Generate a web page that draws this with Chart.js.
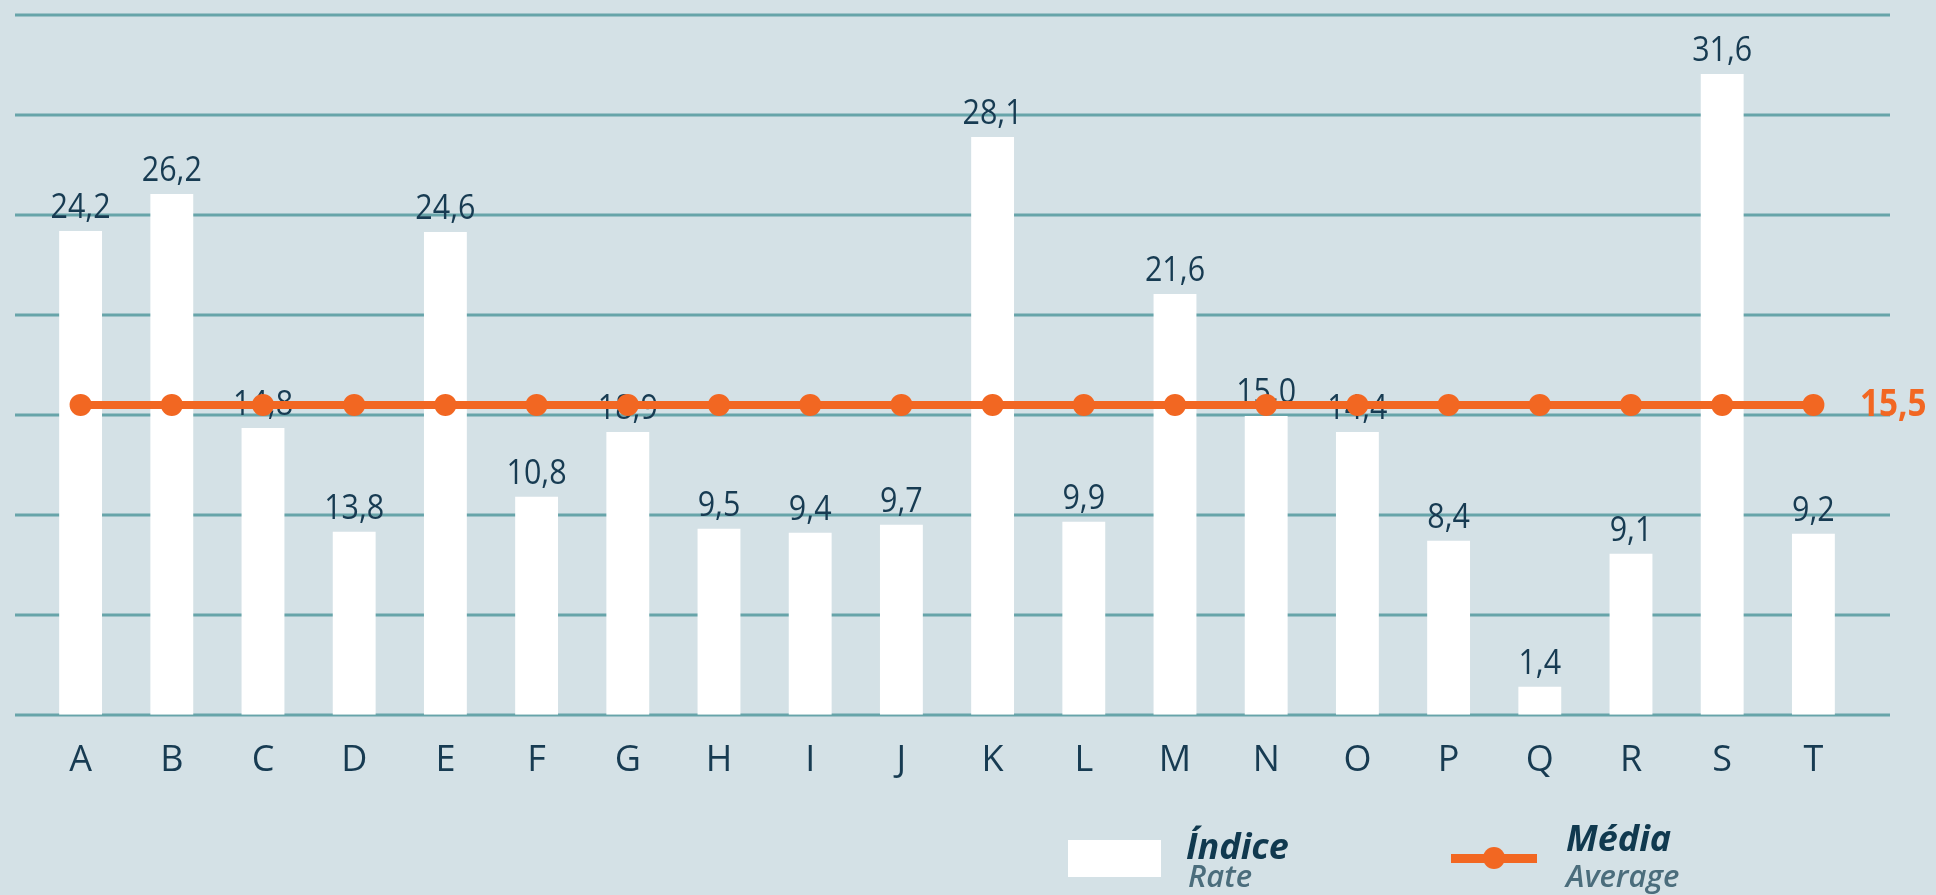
<!DOCTYPE html>
<html>
<head>
<meta charset="utf-8">
<script src="https://cdn.jsdelivr.net/npm/chart.js@4"></script>
<style>
    html, body { margin: 0; padding: 0; background: #d4e1e6; }
    .wrap { position: relative; width: 1936px; height: 895px; }
    canvas { display: block; }
    .legend-box { position: absolute; left: 1068px; top: 840px; width: 93px; height: 37px; background: #ffffff; }
    .legend-line { position: absolute; left: 1451px; top: 854px; width: 86px; height: 9px; background: #f26722; }
    .legend-dot { position: absolute; left: 1483px; top: 847px; width: 22px; height: 22px; border-radius: 50%; background: #f26722; }
    .legend-main, .legend-sub { position: absolute; font-family: "Open Sans", sans-serif; font-style: italic; line-height: 1; white-space: nowrap; }
    .legend-main { font-weight: 700; font-size: 36px; color: #10394f; }
    .legend-sub { font-weight: 600; font-size: 31px; color: #4b6d7c; }
</style>
</head>
<body>
<div class="wrap">
    <canvas id="chart" width="1936" height="895"></canvas>
    <div class="legend-box"></div>
    <div class="legend-main" style="left:1186px; top:828px;">Índice</div>
    <div class="legend-sub" style="left:1188px; top:860px;">Rate</div>
    <div class="legend-line"></div>
    <div class="legend-dot"></div>
    <div class="legend-main" style="left:1566px; top:820px;">Média</div>
    <div class="legend-sub" style="left:1566px; top:860px;">Average</div>
</div>
<script>
// categories on the x axis
const categories = ['A', 'B', 'C', 'D', 'E', 'F', 'G', 'H', 'I', 'J', 'K', 'L', 'M', 'N', 'O', 'P', 'Q', 'R', 'S', 'T'];
// bar heights as drawn in the picture
const barValues = [24.2, 26.05, 14.35, 9.15, 24.15, 10.9, 14.15, 9.3, 9.1, 9.5, 28.9, 9.65, 21.05, 14.95, 14.15, 8.7, 1.4, 8.05, 32.05, 9.05];
// values printed above the bars
const labelValues = [24.2, 26.2, 14.8, 13.8, 24.6, 10.8, 18.9, 9.5, 9.4, 9.7, 28.1, 9.9, 21.6, 15.0, 14.4, 8.4, 1.4, 9.1, 31.6, 9.2];
// average line
const averageValue = 15.5;
const averageLine = categories.map(() => averageValue);
// y grid ticks
const yTicks = [0, 5, 10, 15, 20, 25, 30, 35];

const fmt = v => v.toFixed(1).replace('.', ',');

// draw text a bit narrower, closer to the original condensed face
function narrowText(ctx, text, x, y, sx) {
    ctx.save();
    ctx.translate(x, y);
    ctx.scale(sx, 1);
    ctx.fillText(text, 0, 0);
    ctx.restore();
}

const gridPlugin = {
    id: 'wideGrid',
    beforeDatasetsDraw(chart) {
        const { ctx, chartArea, scales } = chart;
        ctx.save();
        ctx.strokeStyle = '#67a4a9';
        ctx.lineWidth = 3;
        yTicks.forEach(t => {
            const y = Math.round(scales.y.getPixelForValue(t));
            ctx.beginPath();
            ctx.moveTo(chartArea.left - 20, y);
            ctx.lineTo(chartArea.right + 31, y);
            ctx.stroke();
        });
        ctx.restore();
    },
    afterDatasetDraw(chart, args) {
        const { ctx } = chart;
        if (args.index === 0) {
            // value labels above bars (drawn before the line so the line sits on top)
            ctx.save();
            ctx.font = '35px "Open Sans"';
            ctx.fillStyle = '#173b52';
            ctx.textAlign = 'center';
            ctx.textBaseline = 'alphabetic';
            args.meta.data.forEach((bar, i) => {
                narrowText(ctx, fmt(labelValues[i]), bar.x, bar.y - 13, 0.87);
            });
            ctx.restore();
        }
    },
    afterDatasetsDraw(chart) {
        const { ctx, chartArea } = chart;
        const meta = chart.getDatasetMeta(1);
        const last = meta.data[meta.data.length - 1];
        ctx.save();
        ctx.font = 'bold 37px "Open Sans"';
        ctx.fillStyle = '#f26722';
        ctx.textAlign = 'left';
        ctx.textBaseline = 'middle';
        narrowText(ctx, fmt(averageValue), chartArea.right + 1, last.y + 1, 0.9);
        ctx.restore();
    }
};

const ctx = document.getElementById('chart').getContext('2d');
new Chart(ctx, {
    type: 'bar',
    data: {
        labels: categories,
        datasets: [
            {
                label: 'Índice',
                data: barValues,
                backgroundColor: '#ffffff',
                borderWidth: 0,
                barPercentage: 0.47,
                categoryPercentage: 1,
                order: 1
            },
            {
                type: 'line',
                label: 'Média',
                data: averageLine,
                borderColor: '#f26722',
                backgroundColor: '#f26722',
                borderWidth: 8,
                pointRadius: 11,
                pointHoverRadius: 11,
                pointBorderWidth: 0,
                order: 0
            }
        ]
    },
    options: {
        responsive: false,
        animation: false,
        layout: { padding: { top: 15, left: 35, right: 77, bottom: 97 } },
        plugins: { legend: { display: false }, tooltip: { enabled: false } },
        scales: {
            x: {
                grid: { display: false },
                border: { display: false },
                ticks: {
                    padding: 16,
                    color: '#173b52',
                    font: { family: 'Open Sans', size: 36 }
                }
            },
            y: {
                display: false,
                min: 0,
                max: 35,
                ticks: { stepSize: 5 }
            }
        }
    },
    plugins: [gridPlugin]
});
</script>
</body>
</html>
